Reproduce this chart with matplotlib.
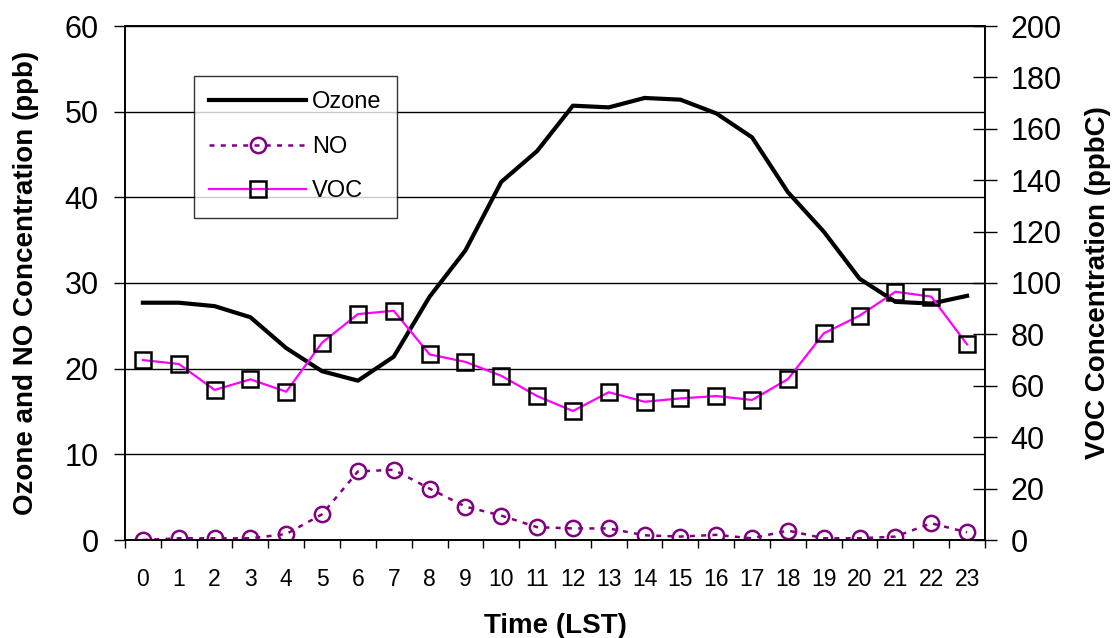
import numpy as np
import matplotlib
matplotlib.use("Agg")
import matplotlib.pyplot as plt

plt.rcParams['font.family'] = ['Liberation Sans', 'DejaVu Sans']

# hourly data (LST)
hours = list(range(24))
ozone = [27.7, 27.7, 27.3, 26.0, 22.4, 19.7, 18.6, 21.4, 28.4, 33.8, 41.8, 45.4,
         50.7, 50.5, 51.6, 51.4, 49.8, 47.0, 40.6, 36.0, 30.5, 27.8, 27.6, 28.5]
no = [0.0, 0.2, 0.2, 0.2, 0.7, 3.0, 8.0, 8.2, 6.0, 3.9, 2.85, 1.5,
      1.35, 1.35, 0.55, 0.4, 0.6, 0.2, 1.1, 0.2, 0.2, 0.4, 1.95, 0.9]
voc = [70.0, 68.5, 58.4, 62.5, 57.7, 76.8, 87.9, 89.2, 72.2, 69.3, 63.9, 56.0,
       50.2, 57.5, 53.8, 55.1, 56.0, 54.5, 62.6, 80.4, 87.3, 96.6, 94.7, 76.1]

left_ticks = [0, 10, 20, 30, 40, 50, 60]
right_ticks = list(range(0, 201, 20))

fig = plt.figure(figsize=(11.17, 6.38), dpi=100)
ax = fig.add_axes([125 / 1117, 1 - 540 / 638, 860 / 1117, 514 / 638])
ax2 = ax.twinx()

l_oz, = ax.plot(hours, ozone, color='black', lw=3, label='Ozone', zorder=3)
l_no, = ax.plot(hours, no, color='#800080', lw=1.8, linestyle=(0, (2, 2.5)),
                marker='o', markersize=11, markerfacecolor='none',
                markeredgecolor='#800080', markeredgewidth=1.8, label='NO', zorder=3)
l_voc, = ax2.plot(hours, voc, color='#ff00ff', lw=1.6, marker='s', markersize=11,
                  markerfacecolor='none', markeredgecolor='black',
                  markeredgewidth=1.8, label='VOC')

ax.set_xlim(-0.5, 23.5)
ax.set_ylim(0, 60)
ax2.set_ylim(0, 200)

ax.set_yticks(left_ticks)
ax.set_yticklabels([str(t) for t in left_ticks], fontsize=22)
ax2.set_yticks(right_ticks)
ax2.set_yticklabels([str(t) for t in right_ticks], fontsize=22)

# category axis: ticks on boundaries, labels at centres
ax.set_xticks(np.arange(-0.5, 24, 1))
ax.set_xticklabels([])
ax.set_xticks(hours, minor=True)
ax.set_xticklabels([str(h) for h in hours], minor=True, fontsize=16.5)
ax.tick_params(axis='x', which='major', direction='out', length=6, width=1)
ax.tick_params(axis='x', which='minor', length=0, pad=20)
ax.tick_params(axis='y', direction='out', length=8, width=1, pad=11)
ax2.tick_params(axis='y', direction='inout', length=17, width=1, pad=10)

ax.yaxis.grid(True, color='black', lw=1)
ax.set_axisbelow(True)
for sp in ax.spines.values():
    sp.set_linewidth(1.2)
for sp in ax2.spines.values():
    sp.set_linewidth(1.2)

ax.set_xlabel('Time (LST)', fontsize=20, fontweight='bold')
ax.xaxis.set_label_coords(0.5, -0.142)
ax.set_ylabel('Ozone and NO Concentration (ppb)', fontsize=20, fontweight='bold')
ax.yaxis.set_label_coords(-0.100, 0.5)
ax2.set_ylabel('VOC Concentration (ppbC)', fontsize=20, fontweight='bold')
ax2.yaxis.set_label_coords(1.116, 0.5)

leg = fig.legend(handles=[l_oz, l_no, l_voc], loc='upper left',
                 bbox_to_anchor=(194 / 1117, 1 - 76 / 638), fontsize=17,
                 frameon=True, fancybox=False, handlelength=4.1,
                 labelspacing=0.95, borderpad=0.65, handletextpad=0.25,
                 borderaxespad=0)
leg.get_frame().set_edgecolor('black')
leg.get_frame().set_linewidth(1)

fig.savefig('out.png', dpi=100)
